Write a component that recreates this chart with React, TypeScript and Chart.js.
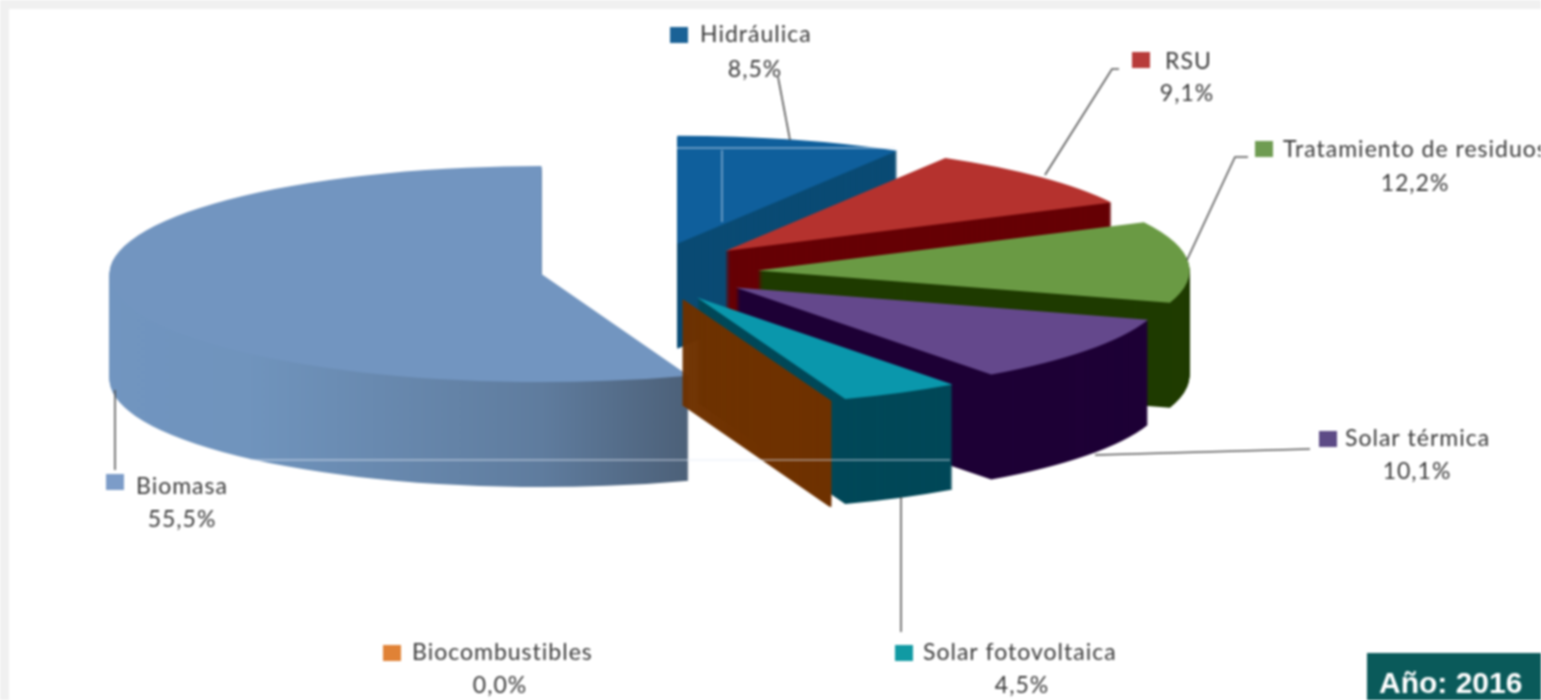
import React, { useEffect, useRef } from "react";
import { Chart, registerables } from "chart.js";

Chart.register(...registerables);

const categories = ["Hidráulica", "RSU", "Tratamiento de residuos", "Solar térmica", "Solar fotovoltaica", "Biocombustibles", "Biomasa"];
const values = [8.5, 9.1, 12.2, 10.1, 4.5, 0.04, 55.5];
const valueLabels = ["8,5%", "9,1%", "12,2%", "10,1%", "4,5%", "0,0%", "55,5%"];

// Styling and layout, kept apart from the data
const topColors = ["#0f5f9c", "#b5322e", "#6a9a44", "#64488c", "#0a97ac", "#6f3200", "#7295c0"];
const wallColors = ["#0a4b74", "#660005", "#1f3b00", "#1e0036", "#004858", "#6f3200", "#6f8fb5"];
const swatchColors = ["#1a6296", "#b83c3a", "#6f9c52", "#5d4b86", "#119aa3", "#e08236", "#7c9cc8"];
const explode = [130, 118, 120, 120, 125, 140, 95];
const nudge = [[8, 5], [4, 1], [3, 3], [3, 0], [3, 0], [0, -3], [0, 0]];
const paintOrder = [6, 0, 1, 2, 3, 4, 5];
const pieRadius = 432;
const tilt = 0.25;
const depth = 105;

const swatches = [[670, 27], [1132, 52], [1255, 141], [1319, 431], [895, 645], [383, 645], [106, 474]];
const namePos = [[700, 35], [1165, 62], [1283, 150], [1345, 439], [923, 653], [412, 653], [136, 487]];
const valuePos = [[755, 70], [1187, 94], [1415, 184], [1417, 472], [1022, 686], [500, 686], [182, 520]];
const leaders = [
  [[778, 77], [790, 140]],
  [[1119, 69], [1112, 69], [1045, 175]],
  [[1248, 157], [1235, 157], [1187, 260]],
  [[1310, 449], [1095, 455]],
  [[901, 632], [901, 497]],
  [],
  [[115, 470], [115, 390]],
];
const highlights = [
  [[250, 460], [950, 460]],
  [[677, 148], [895, 148]],
  [[722, 150], [722, 222]],
];

const W = 1541;
const H = 700;

const pie3d = {
  id: "pie3d",
  beforeDraw(chart: any) {
    const { ctx } = chart;
    ctx.save();
    ctx.fillStyle = "#ffffff";
    ctx.fillRect(0, 0, W, H);
    ctx.fillStyle = "#f0f0f0";
    ctx.fillRect(0, 0, W, 9);
    ctx.fillRect(0, 0, 9, H);
    ctx.restore();
  },
  beforeDatasetDraw(chart: any, args: any) {
    const { ctx } = chart;
    const arcs = args.meta.data;
    const paint = (arc: any, i: number, dy: number, fill: any, border: number) => {
      const saved = arc.options;
      arc.options = { ...saved, backgroundColor: fill, borderColor: fill, borderWidth: border };
      const mid = (arc.startAngle + arc.endAngle) / 2;
      const k = explode[i];
      ctx.save();
      ctx.translate(nudge[i][0], arc.y + dy + nudge[i][1]);
      ctx.scale(1, tilt);
      ctx.translate(0, -arc.y);
      ctx.translate(Math.cos(mid) * k, Math.sin(mid) * k);
      arc.draw(ctx);
      ctx.restore();
      arc.options = saved;
    };
    for (const i of paintOrder) {
      const arc = arcs[i];
      let wall: any = wallColors[i];
      if (i === 6) {
        const g = ctx.createLinearGradient(arc.x - pieRadius, 0, arc.x + pieRadius, 0);
        g.addColorStop(0, "#7195c0");
        g.addColorStop(0.16, "#7094bd");
        g.addColorStop(0.5, "#5f7c9e");
        g.addColorStop(0.67, "#4c6078");
        g.addColorStop(1, "#4c6078");
        wall = g;
      }
      const border = i === 5 ? 2 : 0;
      for (let d = depth; d >= 1; d--) paint(arc, i, d, wall, border);
      paint(arc, i, 0, topColors[i], border);
    }
    return false;
  },
  afterDraw(chart: any) {
    const { ctx } = chart;
    ctx.save();
    ctx.strokeStyle = "rgba(225,235,245,0.55)";
    ctx.lineWidth = 1.5;
    for (const h of highlights) {
      ctx.beginPath();
      ctx.moveTo(h[0][0], h[0][1]);
      ctx.lineTo(h[1][0], h[1][1]);
      ctx.stroke();
    }
    ctx.strokeStyle = "#555555";
    ctx.lineWidth = 1.6;
    for (const l of leaders) {
      if (!l.length) continue;
      ctx.beginPath();
      l.forEach((p, i) => (i ? ctx.lineTo(p[0], p[1]) : ctx.moveTo(p[0], p[1])));
      ctx.stroke();
    }
    ctx.font = "23px Lato";
    (ctx as any).letterSpacing = "1px";
    ctx.textBaseline = "middle";
    categories.forEach((name, i) => {
      ctx.fillStyle = swatchColors[i];
      ctx.fillRect(swatches[i][0], swatches[i][1], 18, 16);
      ctx.fillStyle = "#3a3a3a";
      ctx.textAlign = "left";
      ctx.fillText(name, namePos[i][0], namePos[i][1]);
      ctx.textAlign = "center";
      ctx.fillText(valueLabels[i], valuePos[i][0], valuePos[i][1]);
    });
    (ctx as any).letterSpacing = "0px";
    ctx.fillStyle = "#0a5a5a";
    ctx.fillRect(1367, 653, W - 1367, H - 653);
    ctx.fillStyle = "#ffffff";
    ctx.font = 'bold 30px "Liberation Sans"';
    ctx.textAlign = "left";
    ctx.fillText("Año: 2016", 1379, 685);
    ctx.restore();
  },
};

export default function App() {
  const ref = useRef<HTMLCanvasElement>(null);
  useEffect(() => {
    const chart = new Chart(ref.current as HTMLCanvasElement, {
      type: "pie",
      data: {
        labels: categories,
        datasets: [{ data: values, backgroundColor: topColors, borderWidth: 0 }],
      },
      options: {
        animation: false,
        responsive: false,
        devicePixelRatio: 1,
        radius: pieRadius,
        layout: { padding: { right: W - 2 * 635, bottom: H - 2 * 270 } },
        plugins: { legend: { display: false }, tooltip: { enabled: false } },
      } as any,
      plugins: [pie3d],
    });
    return () => chart.destroy();
  }, []);
  return (
    <div style={{ position: "fixed", left: 0, top: 0, width: W, height: H, overflow: "hidden", background: "#fff" }}>
      <canvas ref={ref} width={W} height={H} style={{ display: "block", width: W, height: H, filter: "blur(0.8px)" }} />
    </div>
  );
}
